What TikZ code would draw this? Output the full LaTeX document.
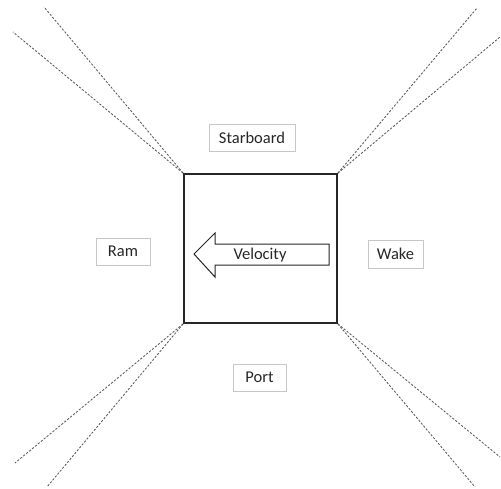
\documentclass[tikz,border=0pt]{standalone}
\usepackage{fontspec}
\setmainfont{Carlito}
\begin{document}
\begin{tikzpicture}[x=1pt,y=-1pt,
  label box/.style={draw=black!22,line width=0.8pt,inner sep=0pt,
    font=\fontsize{16.5}{18}\selectfont,text=black!85},
  wake line/.style={draw=black!65,line width=0.85pt,dash pattern=on 2.2pt off 1.6pt},
  hull box/.style={draw=black!85,line width=1.8pt,inner sep=0pt}]
\useasboundingbox (0,0) rectangle (501,488);

% Vehicle outline
\node[hull box,minimum width=153pt,minimum height=149pt] (hull) at (260.5,248.5) {};

% Direction labels round the vehicle
\node[label box,minimum width=86pt,minimum height=27pt] (star) at (252,137.5) {Starboard};
\node[label box,minimum width=54pt,minimum height=27pt] (ram) at (123,251.5) {Ram};
\node[label box,minimum width=55pt,minimum height=28pt] (wake) at (395.5,254) {Wake};
\node[label box,minimum width=53pt,minimum height=27pt] (port) at (259.5,377.5) {Port};

% Far ends of the dashed corner rays
\coordinate (nwA) at (44,7);
\coordinate (nwB) at (13,32);
\coordinate (neA) at (477,8);
\coordinate (neB) at (500,37);
\coordinate (swA) at (15,463);
\coordinate (swB) at (47,487);
\coordinate (seA) at (500,457);
\coordinate (seB) at (475,487);

\draw[wake line] (hull.north west) -- (nwA);
\draw[wake line] (hull.north west) -- (nwB);
\draw[wake line] (hull.north east) -- (neA);
\draw[wake line] (hull.north east) -- (neB);
\draw[wake line] (hull.south west) -- (swA);
\draw[wake line] (hull.south west) -- (swB);
\draw[wake line] (hull.south east) -- (seA);
\draw[wake line] (hull.south east) -- (seB);

% Velocity block arrow
\draw[black!85,line width=1pt,line join=miter]
  (194,254) -- (215,233) -- (215,244) -- (329,244) -- (329,265)
  -- (215,265) -- (215,277) -- cycle;
\node[font=\fontsize{16.5}{18}\selectfont,text=black!85,inner sep=0pt] (vel) at (260,255) {Velocity};
\end{tikzpicture}
\end{document}
